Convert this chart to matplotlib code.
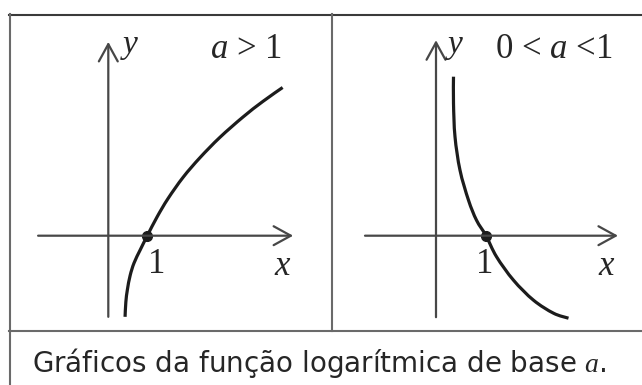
import matplotlib
matplotlib.use("Agg")
import matplotlib.pyplot as plt
from matplotlib.lines import Line2D
from matplotlib.path import Path
from matplotlib.patches import PathPatch

# Configuration
W, H, DPI = 642, 385, 100
plt.rcParams['mathtext.fontset'] = 'custom'
plt.rcParams['mathtext.rm'] = 'Liberation Serif'
plt.rcParams['mathtext.it'] = 'Liberation Serif:italic'

# Data (units of each panel's own axes)
LEFT_X = [0.43, 0.45, 0.49, 0.56, 0.66, 0.82, 1.0, 1.25, 1.53, 1.92, 2.35, 2.86, 3.45, 3.96, 4.47]
LEFT_Y = [-2.08, -1.70, -1.38, -1.02, -0.70, -0.36, 0.0, 0.48, 0.95, 1.50, 2.00, 2.52, 3.04, 3.44, 3.80]
RIGHT_X = [0.35, 0.35, 0.38, 0.48, 0.65, 0.81, 1.0, 1.21, 1.55, 1.95, 2.35, 2.65]
RIGHT_Y = [3.18, 2.65, 1.98, 1.31, 0.71, 0.31, 0.0, -0.42, -0.89, -1.29, -1.55, -1.65]
ROOT = (1.0, 0.0)

LEFT_LABEL = "$a$ > 1"
RIGHT_LABEL = "0 < $a$ <1"
CAPTION = "Gráficos da função logarítmica de base $a$."

CURVE = '#1c1c1c'
AXIS = '#474747'
BORDER = '#6a6a6a'
TEXT = '#262626'


def panel(fig, px_left, px_right, origin, unit):
    """Axes over a pixel box (top 14, bottom 331) with data units in math coords"""
    top, bottom = 14, 331
    ax = fig.add_axes([px_left / W, 1 - bottom / H, (px_right - px_left) / W, (bottom - top) / H])
    ox, oy = origin
    ax.set_xlim((px_left - ox) / unit, (px_right - ox) / unit)
    ax.set_ylim((oy - bottom) / unit, (oy - top) / unit)
    ax.axis('off')
    return ax


def draw_axes(ax, xr, yr):
    arrow = dict(arrowstyle='->,head_length=0.62,head_width=0.34', lw=1.6,
                 color=AXIS, mutation_scale=20, shrinkA=0, shrinkB=0)
    ax.annotate('', xy=(xr[1], 0), xytext=(xr[0], 0), arrowprops=arrow)
    ax.annotate('', xy=(0, yr[1]), xytext=(0, yr[0]), arrowprops=arrow)


def smooth_curve(ax, xs, ys):
    """Catmull-Rom through the read points, drawn as cubic Bezier segments"""
    pts = list(zip(xs, ys))
    ext = [pts[0]] + pts + [pts[-1]]
    verts, codes = [pts[0]], [Path.MOVETO]
    for i in range(1, len(ext) - 2):
        p0, p1, p2, p3 = ext[i - 1], ext[i], ext[i + 1], ext[i + 2]
        c1 = (p1[0] + (p2[0] - p0[0]) / 6, p1[1] + (p2[1] - p0[1]) / 6)
        c2 = (p2[0] - (p3[0] - p1[0]) / 6, p2[1] - (p3[1] - p1[1]) / 6)
        verts += [c1, c2, p2]
        codes += [Path.CURVE4] * 3
    ax.add_patch(PathPatch(Path(verts, codes), fill=False, edgecolor=CURVE, lw=2.3,
                           capstyle='butt', joinstyle='round'))


fig = plt.figure(figsize=(W / DPI, H / DPI), dpi=DPI)

# Left panel: a > 1
ax1 = panel(fig, 10, 332, (108.3, 235.7), 39.0)
draw_axes(ax1, (-1.80, 4.74), (-2.08, 4.97))
smooth_curve(ax1, LEFT_X, LEFT_Y)
ax1.plot(*ROOT, 'o', color=CURVE, ms=7)
ax1.text(0.56, 4.68, '$y$', fontsize=24, ha='center', va='baseline', color=TEXT)
ax1.text(3.52, 4.56, LEFT_LABEL, fontsize=25, family='Liberation Serif', ha='center', va='baseline', color=TEXT)
ax1.text(1.25, -0.96, '1', fontsize=25, family='Liberation Serif', ha='center', va='baseline', color=TEXT)
ax1.text(4.47, -1.01, '$x$', fontsize=25, ha='center', va='baseline', color=TEXT)

# Right panel: 0 < a < 1
ax2 = panel(fig, 332, 642, (436.0, 235.7), 50.0)
draw_axes(ax2, (-1.42, 3.64), (-1.63, 3.91))
smooth_curve(ax2, RIGHT_X, RIGHT_Y)
ax2.plot(*ROOT, 'o', color=CURVE, ms=7)
ax2.text(0.38, 3.65, '$y$', fontsize=24, ha='center', va='baseline', color=TEXT)
ax2.text(2.36, 3.55, RIGHT_LABEL, fontsize=25, family='Liberation Serif', ha='center', va='baseline', color=TEXT)
ax2.text(0.98, -0.75, '1', fontsize=25, family='Liberation Serif', ha='center', va='baseline', color=TEXT)
ax2.text(3.42, -0.79, '$x$', fontsize=25, ha='center', va='baseline', color=TEXT)

# Table borders
def px_line(x0, y0, x1, y1, color=BORDER, lw=1.5):
    fig.add_artist(Line2D([x0 / W, x1 / W], [1 - y0 / H, 1 - y1 / H], color=color, lw=lw,
                          transform=fig.transFigure))

px_line(9, 14.5, 642, 14.5, color='#3a3a3a')
px_line(10, 14, 10, 385)
px_line(331.5, 14, 331.5, 331)
px_line(9, 331, 642, 331)

fig.text(32 / W, 1 - 372 / H, CAPTION, fontsize=20, family='DejaVu Sans',
         ha='left', va='baseline', color=TEXT)

fig.savefig('out.png', dpi=DPI)
